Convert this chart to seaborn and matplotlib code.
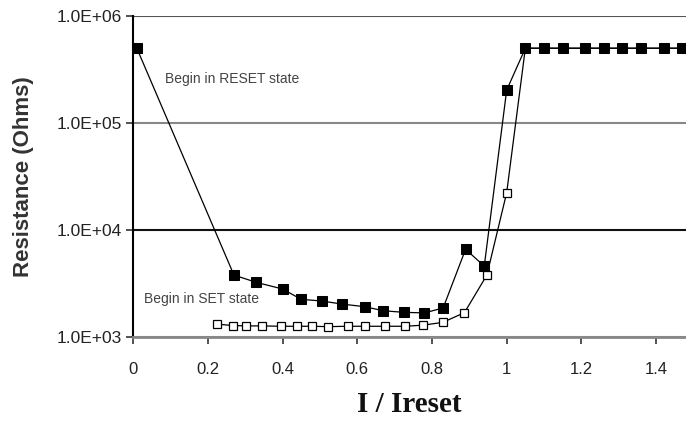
import numpy as np
import pandas as pd
import seaborn as sns
import matplotlib.pyplot as plt
from matplotlib.ticker import FixedLocator, NullLocator

# Datos
x_reset = [0.01, 0.27, 0.33, 0.40, 0.45, 0.505, 0.56, 0.62, 0.67, 0.725, 0.78, 0.83,
           0.89, 0.94, 1.00, 1.05, 1.10, 1.15, 1.21, 1.26, 1.31, 1.36, 1.42, 1.47]
r_reset = [5.0e5, 3790, 3240, 2810, 2250, 2170, 2030, 1920, 1760, 1700, 1680, 1870,
           6600, 4600, 2.03e5, 5.0e5, 5.0e5, 5.0e5, 5.0e5, 5.0e5, 5.0e5, 5.0e5, 5.0e5, 5.0e5]

x_set = [0.224, 0.267, 0.303, 0.345, 0.395, 0.44, 0.478, 0.523, 0.574, 0.621, 0.675, 0.728,
         0.776, 0.829, 0.887, 0.947, 1.00, 1.05, 1.10, 1.15, 1.21, 1.26, 1.31, 1.36, 1.42, 1.47]
r_set = [1320, 1280, 1270, 1270, 1260, 1260, 1260, 1250, 1260, 1260, 1260, 1260,
         1290, 1370, 1690, 3790, 22300, 5.0e5, 5.0e5, 5.0e5, 5.0e5, 5.0e5, 5.0e5, 5.0e5, 5.0e5, 5.0e5]

y_ticks = [1e3, 1e4, 1e5, 1e6]
y_labels = ["1.0E+03", "1.0E+04", "1.0E+05", "1.0E+06"]
x_ticks = [0, 0.2, 0.4, 0.6, 0.8, 1.0, 1.2, 1.4]
x_labels = ["0", "0.2", "0.4", "0.6", "0.8", "1", "1.2", "1.4"]

df_reset = pd.DataFrame({"I": x_reset, "R": r_reset})
df_set = pd.DataFrame({"I": x_set, "R": r_set})

sns.set_style("white")
plt.rcParams["font.family"] = ["Liberation Sans", "DejaVu Sans"]

fig = plt.figure(figsize=(6.86, 4.21), dpi=100)
ax = fig.add_axes([0.194, 0.1995, 0.806, 0.7625])

sns.lineplot(data=df_set, x="I", y="R", ax=ax, estimator=None, color="black",
             linewidth=0.9, marker="s", markersize=5.5, markerfacecolor="white",
             markeredgecolor="black", markeredgewidth=0.9, zorder=3)
sns.lineplot(data=df_reset, x="I", y="R", ax=ax, estimator=None, color="black",
             linewidth=0.9, marker="s", markersize=6.5, markerfacecolor="black",
             markeredgecolor="black", zorder=4)

ax.set_yscale("log")
ax.set_ylim(1e3, 1e6)
ax.set_xlim(0, 1.48)
ax.yaxis.set_major_locator(FixedLocator(y_ticks))
ax.yaxis.set_minor_locator(NullLocator())
ax.set_yticklabels(y_labels)
ax.set_xticks(x_ticks)
ax.set_xticklabels(x_labels)

ax.tick_params(axis="both", direction="out", length=5, width=1.2, colors="#333333",
               labelsize=12, labelcolor="#222222")
ax.tick_params(axis="y", labelsize=12.5, pad=3)
ax.tick_params(axis="x", pad=13)
ax.tick_params(left=True, bottom=True)

# lineas horizontales en las decadas
ax.yaxis.grid(True, which="major", linewidth=1.5)
grid_colors = ["#999999", "#111111", "#888888", "#555555"]
for gl, c in zip(ax.get_ygridlines(), grid_colors):
    gl.set_color(c)
ax.set_axisbelow(True)

for s in ["top", "right"]:
    ax.spines[s].set_visible(False)
ax.spines["left"].set_color("black")
ax.spines["left"].set_linewidth(1.5)
ax.spines["bottom"].set_color("#888888")
ax.spines["bottom"].set_linewidth(2)

ax.set_ylabel("Resistance (Ohms)", fontsize=16, fontweight="bold", color="#333333", labelpad=16)
ax.set_xlabel("I / Ireset", fontsize=21, fontweight="bold", family="Liberation Serif",
              color="#111111", labelpad=10)

ax.text(0.085, 2.6e5, "Begin in RESET state", fontsize=10, color="#444444", va="center")
ax.text(0.03, 2.25e3, "Begin in SET state", fontsize=10, color="#444444", va="center")

plt.savefig("out.png", dpi=100)
plt.close()
